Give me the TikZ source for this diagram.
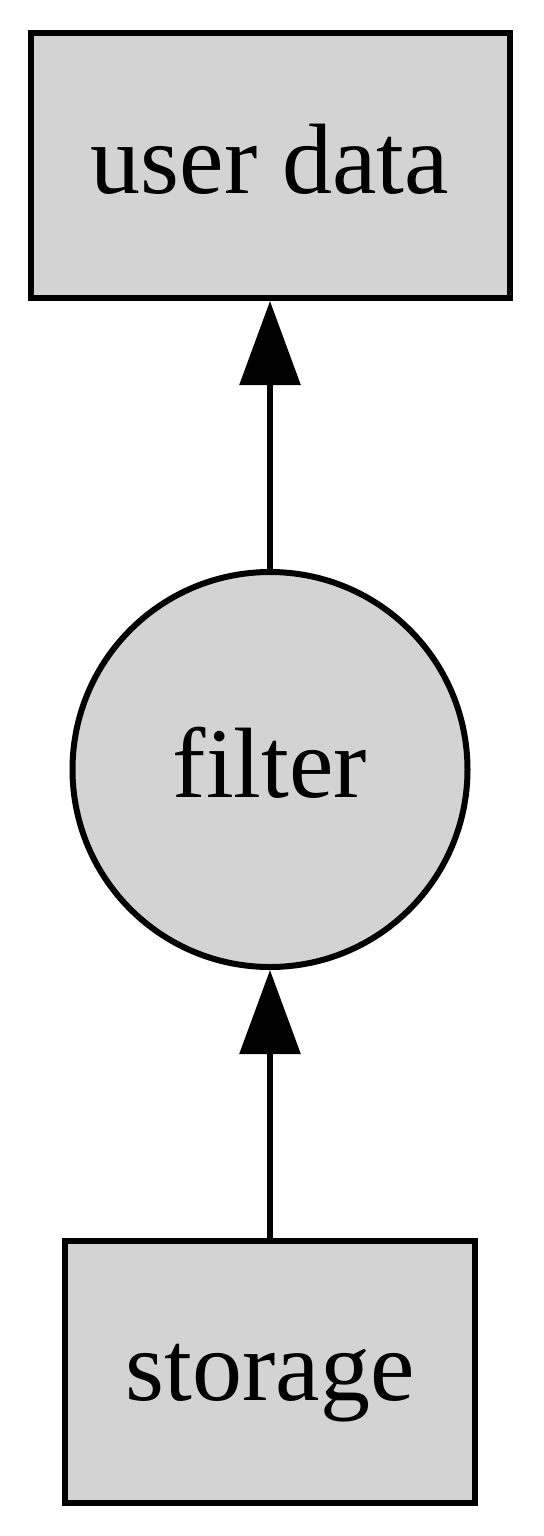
\documentclass[tikz,border=0pt]{standalone}
\usepackage{fontspec}
\setmainfont{Liberation Serif}
\usepackage{tikz}
\usetikzlibrary{positioning,arrows.meta}
\definecolor{lightgrey}{RGB}{211,211,211}

\begin{document}
\begin{tikzpicture}
		\tikzstyle{every label}=[font=\fontsize{50pt}{60pt}\selectfont, text height=28pt, text depth=0pt, inner sep=0pt]
		\tikzstyle{main}=[circle, minimum size = 197.5pt, line width=3pt, draw=black, fill=lightgrey, node distance = 134pt]
		\tikzstyle{box}=[rectangle, line width=3pt, draw=black, fill=lightgrey, node distance = 134pt]
		\tikzstyle{connect}=[-{Triangle[length=42pt,width=30pt]}, line width=3pt]
		\useasboundingbox (0,0) rectangle (271.5pt,-768pt);
		\node[box, minimum width=205pt, minimum height=131pt] (storage) at (135pt,-686pt) [label=center:storage] { };
		\node[main] (filter) [above=of storage, label=center:filter] { };
		\node[box, minimum width=239.5pt, minimum height=132.5pt] (user) [above=of filter, label=center:user data] { };
		\path (storage) edge [connect] (filter)
		(filter) edge [connect] (user);
\end{tikzpicture}
\end{document}
